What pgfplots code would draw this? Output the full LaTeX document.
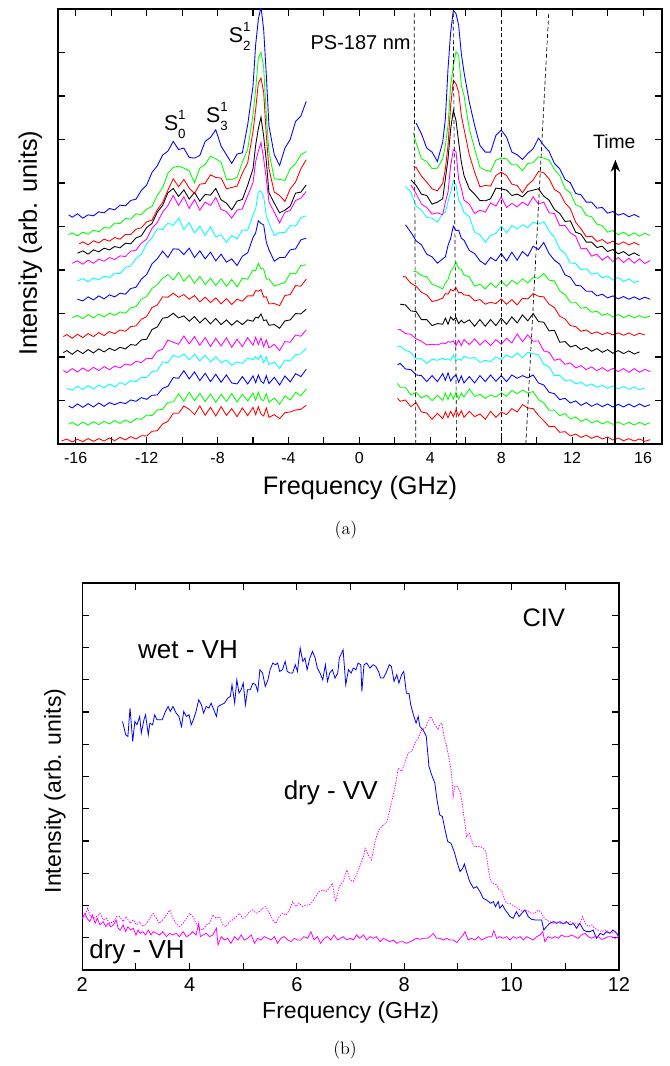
\documentclass[border=0pt]{standalone}
\usepackage{pgfplots}
\pgfplotsset{compat=1.18}
\usepackage{fontspec}
\newfontfamily\arial{Liberation Sans}
\usetikzlibrary{arrows.meta}
\definecolor{cyn}{rgb}{0,1,1}
\definecolor{mag}{rgb}{1,0,1}
\definecolor{grn}{rgb}{0,1,0}

\pgfplotsset{
  tr/.style={line width=0.65pt},
  panel/.style={
    scale only axis, anchor=north west,
    tick align=inside, major tick length=5pt, minor tick length=5pt,
    tick style={line width=0.8pt, black},
    axis line style={line width=0.9pt},
    yticklabels={},
  },
}
\newcommand{\slab}[1]{S\rlap{\raisebox{0.52em}{\fontsize{10}{10}\selectfont 1}}\raisebox{-0.38em}{\fontsize{10}{10}\selectfont #1}}

\begin{document}
\begin{tikzpicture}
\path[use as bounding box] (0,0) rectangle (502.5pt,-799.5pt);

% ---------------- panel (a) ----------------
\begin{axis}[panel,
  at={(43.5pt,-6.75pt)}, width=453pt, height=326.25pt,
  xmin=-17, xmax=17.07, ymin=0, ymax=1304,
  xtick={-16,-12,...,16}, xticklabels={-16,-12,-8,-4,0,4,8,12,16},
  minor x tick num=1, ytick distance=130.4,
  tick label style={font=\arial\fontsize{12}{14}\selectfont},
  xticklabel style={yshift=-3pt},
  label style={font=\arial\fontsize{19}{22}\selectfont},
  xlabel={Frequency (GHz)}, ylabel={Intensity (arb. units)},
  xlabel style={at={(axis description cs:0.5,-0.101)}, anchor=center},
  ylabel style={at={(axis description cs:-0.046,0.462)}, anchor=center},
]
% T1 red
\addplot[red,tr] coordinates {(-16.8,9)(-16.5,15)(-16.2,6)(-15.9,14)(-15.6,7)(-15.3,16)(-15.0,8)(-14.7,16)(-14.4,9)(-14.1,18)(-13.8,10)(-13.5,20)(-13.2,12)(-12.9,22)(-12.6,15)(-12.3,25)(-12.0,24)(-11.7,38)(-11.4,40)(-11.1,60)(-10.8,68)(-10.5,92)(-10.2,92)(-9.9,114)(-9.6,104)(-9.3,88)(-9.0,114)(-8.7,86)(-8.4,110)(-8.1,84)(-7.8,112)(-7.5,86)(-7.2,106)(-6.9,82)(-6.6,108)(-6.3,85)(-6.0,110)(-5.85,88)(-5.7,112)(-5.55,90)(-5.4,84)(-5.25,108)(-5.1,80)(-4.8,88)(-4.5,76)(-4.2,94)(-3.9,96)(-3.6,102)(-3.3,104)(-3.0,116)};
\addplot[red,tr] coordinates {(2.15,137)(2.3,128)(2.6,132)(2.9,112)(3.2,124)(3.5,96)(3.8,93)(4.1,74)(4.4,92)(4.7,76)(4.85,96)(5.0,79)(5.15,98)(5.3,82)(5.45,102)(5.6,84)(5.75,100)(5.9,80)(6.2,98)(6.5,82)(6.8,90)(7.1,74)(7.4,98)(7.7,80)(8.0,96)(8.3,88)(8.6,106)(8.9,96)(9.2,118)(9.5,108)(9.8,106)(10.1,86)(10.4,70)(10.7,52)(11.0,53)(11.3,35)(11.6,37)(11.9,24)(12.2,30)(12.5,20)(12.8,26)(13.1,17)(13.4,24)(13.7,15)(14.0,21)(14.3,12)(14.6,18)(14.9,10)(15.2,16)(15.5,9)(15.8,15)(16.1,8)(16.4,13)};
% T2 green
\addplot[grn,tr] coordinates {(-16.4,59)(-16.2,65)(-15.9,55)(-15.6,66)(-15.3,57)(-15.0,67)(-14.7,58)(-14.4,68)(-14.1,60)(-13.8,70)(-13.5,62)(-13.2,72)(-12.9,64)(-12.6,76)(-12.3,74)(-12.0,87)(-11.7,85)(-11.4,102)(-11.1,104)(-10.8,125)(-10.5,126)(-10.2,150)(-9.9,128)(-9.6,155)(-9.3,130)(-9.0,152)(-8.7,127)(-8.4,150)(-8.1,125)(-7.8,149)(-7.5,128)(-7.2,151)(-6.9,126)(-6.6,149)(-6.3,129)(-6.0,153)(-5.85,131)(-5.7,155)(-5.55,134)(-5.4,130)(-5.25,151)(-5.1,125)(-4.8,138)(-4.5,119)(-4.2,144)(-3.9,132)(-3.6,155)(-3.3,145)(-3.0,165)};
\addplot[grn,tr] coordinates {(2.15,182)(2.3,170)(2.6,170)(2.9,147)(3.2,155)(3.5,138)(3.8,146)(4.1,130)(4.4,146)(4.7,131)(4.85,152)(5.0,133)(5.15,153)(5.3,135)(5.45,155)(5.6,134)(5.75,153)(5.9,141)(6.2,165)(6.5,143)(6.8,149)(7.1,137)(7.4,147)(7.7,141)(8.0,153)(8.3,143)(8.6,161)(8.9,151)(9.2,162)(9.5,153)(9.8,157)(10.1,133)(10.4,123)(10.7,101)(11.0,101)(11.3,85)(11.6,91)(11.9,75)(12.2,81)(12.5,68)(12.8,75)(13.1,63)(13.4,70)(13.7,60)(14.0,67)(14.3,59)(14.6,66)(14.9,58)(15.2,65)(15.5,57)(15.8,65)(16.1,58)(16.4,64)};
% T3 blue
\addplot[blue,tr] coordinates {(-16.4,114)(-16.2,108)(-15.9,120)(-15.6,110)(-15.3,121)(-15.0,111)(-14.7,123)(-14.4,113)(-14.1,124)(-13.8,118)(-13.5,125)(-13.2,121)(-12.9,132)(-12.6,128)(-12.3,139)(-12.0,134)(-11.7,146)(-11.4,147)(-11.1,167)(-10.8,173)(-10.5,199)(-10.2,197)(-9.9,220)(-9.6,195)(-9.3,216)(-9.0,190)(-8.7,212)(-8.4,187)(-8.1,209)(-7.8,185)(-7.5,207)(-7.2,183)(-6.9,180)(-6.6,202)(-6.3,180)(-6.0,204)(-5.85,184)(-5.7,207)(-5.55,188)(-5.4,182)(-5.25,205)(-5.1,181)(-4.8,200)(-4.5,177)(-4.2,204)(-3.9,186)(-3.6,211)(-3.3,202)(-3.0,224)};
\addplot[blue,tr] coordinates {(2.15,237)(2.3,242)(2.6,225)(2.9,223)(3.2,207)(3.5,205)(3.8,187)(4.1,205)(4.4,187)(4.7,211)(4.85,191)(5.0,213)(5.15,189)(5.3,201)(5.45,207)(5.6,185)(5.75,204)(5.9,183)(6.2,202)(6.5,183)(6.8,205)(7.1,187)(7.4,207)(7.7,188)(8.0,205)(8.3,187)(8.6,207)(8.9,197)(9.2,205)(9.5,198)(9.8,207)(10.1,183)(10.4,177)(10.7,155)(11.0,151)(11.3,133)(11.6,137)(11.9,123)(12.2,129)(12.5,116)(12.8,124)(13.1,113)(13.4,121)(13.7,112)(14.0,120)(14.3,111)(14.6,119)(14.9,111)(15.2,120)(15.5,111)(15.8,120)(16.1,112)(16.4,118)};
% T4 cyan
\addplot[cyn,tr] coordinates {(-16.5,167)(-16.2,161)(-15.9,173)(-15.6,163)(-15.3,175)(-15.0,165)(-14.7,177)(-14.4,168)(-14.1,180)(-13.8,171)(-13.5,184)(-13.2,178)(-12.9,190)(-12.6,187)(-12.3,200)(-12.0,199)(-11.7,217)(-11.4,220)(-11.1,246)(-10.8,244)(-10.5,266)(-10.2,260)(-9.9,270)(-9.6,252)(-9.3,268)(-9.0,249)(-8.7,266)(-8.4,246)(-8.1,262)(-7.8,244)(-7.5,252)(-7.2,236)(-6.9,246)(-6.6,242)(-6.3,258)(-6.0,252)(-5.85,262)(-5.7,254)(-5.55,266)(-5.4,244)(-5.25,262)(-5.1,238)(-4.8,246)(-4.5,226)(-4.2,252)(-3.9,249)(-3.6,268)(-3.3,270)(-3.0,287)};
\addplot[cyn,tr] coordinates {(2.15,292)(2.3,293)(2.6,281)(2.9,275)(3.2,255)(3.5,256)(3.8,242)(4.1,254)(4.4,251)(4.7,257)(4.85,253)(5.0,255)(5.15,251)(5.3,267)(5.45,250)(5.6,255)(5.75,251)(5.9,263)(6.2,257)(6.5,259)(6.8,245)(7.1,251)(7.4,247)(7.7,261)(8.0,253)(8.3,267)(8.6,259)(8.9,273)(9.2,259)(9.5,275)(9.8,271)(10.1,267)(10.4,239)(10.7,231)(11.0,205)(11.3,206)(11.6,190)(11.9,192)(12.2,180)(12.5,185)(12.8,174)(13.1,180)(13.4,170)(13.7,176)(14.0,167)(14.3,174)(14.6,165)(14.9,172)(15.2,164)(15.5,171)(15.8,163)(16.1,168)};
% T5 magenta
\addplot[mag,tr] coordinates {(-16.7,220)(-16.5,214)(-16.2,226)(-15.9,216)(-15.6,228)(-15.3,218)(-15.0,230)(-14.7,220)(-14.4,232)(-14.1,223)(-13.8,234)(-13.5,228)(-13.2,240)(-12.9,236)(-12.6,248)(-12.3,244)(-12.0,257)(-11.7,256)(-11.4,278)(-11.1,284)(-10.8,312)(-10.5,305)(-10.2,299)(-9.9,324)(-9.6,300)(-9.3,322)(-9.0,296)(-8.7,319)(-8.4,292)(-8.1,317)(-7.8,294)(-7.5,318)(-7.2,290)(-6.9,314)(-6.6,292)(-6.3,319)(-6.0,296)(-5.85,320)(-5.7,298)(-5.55,318)(-5.4,292)(-5.25,312)(-5.1,288)(-4.8,299)(-4.5,280)(-4.2,307)(-3.9,305)(-3.6,327)(-3.3,323)(-3.0,342)};
\addplot[mag,tr] coordinates {(2.15,342)(2.3,343)(2.6,331)(2.9,329)(3.2,315)(3.5,308)(3.8,297)(4.1,299)(4.4,297)(4.7,303)(4.85,301)(5.0,307)(5.15,305)(5.3,309)(5.45,295)(5.6,311)(5.75,295)(5.9,313)(6.2,298)(6.5,315)(6.8,297)(7.1,311)(7.4,295)(7.7,313)(8.0,299)(8.3,317)(8.6,303)(8.9,330)(9.2,307)(9.5,327)(9.8,308)(10.1,309)(10.4,279)(10.7,275)(11.0,251)(11.3,255)(11.6,239)(11.9,243)(12.2,228)(12.5,235)(12.8,223)(13.1,231)(13.4,220)(13.7,229)(14.0,218)(14.3,227)(14.6,217)(14.9,226)(15.2,215)(15.5,226)(15.8,215)(16.1,224)(16.4,217)};
% T6 black
\addplot[black,tr] coordinates {(-16.7,274)(-16.5,280)(-16.2,269)(-15.9,281)(-15.6,271)(-15.3,283)(-15.0,273)(-14.7,285)(-14.4,276)(-14.1,287)(-13.8,280)(-13.5,290)(-13.2,285)(-12.9,298)(-12.6,296)(-12.3,312)(-12.0,314)(-11.7,343)(-11.4,351)(-11.1,377)(-10.8,380)(-10.5,392)(-10.2,378)(-9.9,384)(-9.6,368)(-9.3,382)(-9.0,363)(-8.7,378)(-8.4,360)(-8.1,376)(-7.8,358)(-7.5,372)(-7.2,356)(-6.9,370)(-6.6,358)(-6.3,372)(-6.0,368)(-5.85,380)(-5.7,378)(-5.55,390)(-5.4,370)(-5.25,372)(-5.1,356)(-4.8,358)(-4.5,347)(-4.2,369)(-3.9,372)(-3.6,391)(-3.3,390)(-3.0,404)};
\addplot[black,tr] coordinates {(2.3,419)(2.6,417)(2.9,399)(3.2,397)(3.5,373)(3.8,373)(4.1,355)(4.4,361)(4.7,359)(4.85,377)(5.0,359)(5.15,381)(5.3,371)(5.45,379)(5.6,361)(5.75,371)(5.9,363)(6.2,372)(6.5,353)(6.8,373)(7.1,353)(7.4,373)(7.7,355)(8.0,377)(8.3,359)(8.6,381)(8.9,363)(9.2,387)(9.5,369)(9.8,391)(10.1,367)(10.4,365)(10.7,339)(11.0,341)(11.3,305)(11.6,307)(11.9,291)(12.2,296)(12.5,283)(12.8,290)(13.1,278)(13.4,286)(13.7,275)(14.0,283)(14.3,272)(14.6,280)(14.9,271)(15.2,279)(15.5,270)(15.8,276)};
% T7 red
\addplot[red,tr] coordinates {(-16.7,322)(-16.5,328)(-16.2,317)(-15.9,329)(-15.6,319)(-15.3,331)(-15.0,322)(-14.7,334)(-14.4,325)(-14.1,337)(-13.8,331)(-13.5,342)(-13.2,338)(-12.9,352)(-12.6,354)(-12.3,374)(-12.0,382)(-11.7,409)(-11.4,417)(-11.1,441)(-10.8,440)(-10.5,452)(-10.2,440)(-9.9,448)(-9.6,434)(-9.3,445)(-9.0,426)(-8.7,440)(-8.4,424)(-8.1,438)(-7.8,420)(-7.5,436)(-7.2,418)(-6.9,434)(-6.6,428)(-6.3,444)(-6.0,444)(-5.85,460)(-5.7,458)(-5.55,463)(-5.4,441)(-5.25,441)(-5.1,420)(-4.8,421)(-4.5,415)(-4.2,445)(-3.9,448)(-3.6,475)(-3.3,473)(-3.0,494)};
\addplot[red,tr] coordinates {(2.45,502)(2.6,501)(2.9,482)(3.2,473)(3.5,455)(3.8,447)(4.1,427)(4.4,431)(4.7,437)(4.85,451)(5.0,449)(5.15,463)(5.3,459)(5.45,469)(5.6,453)(5.75,455)(5.9,447)(6.2,445)(6.5,429)(6.8,433)(7.1,419)(7.4,425)(7.7,421)(8.0,435)(8.3,419)(8.6,433)(8.9,417)(9.2,437)(9.5,435)(9.8,451)(10.1,443)(10.4,441)(10.7,419)(11.0,409)(11.3,383)(11.6,375)(11.9,355)(12.2,352)(12.5,338)(12.8,342)(13.1,331)(13.4,336)(13.7,328)(14.0,334)(14.3,327)(14.6,333)(14.9,326)(15.2,333)(15.5,325)(15.8,332)(16.1,327)};
% T8 green
\addplot[grn,tr] coordinates {(-16.2,379)(-15.9,385)(-15.6,376)(-15.3,388)(-15.0,378)(-14.7,390)(-14.4,381)(-14.1,392)(-13.8,386)(-13.5,396)(-13.2,392)(-12.9,408)(-12.6,412)(-12.3,434)(-12.0,442)(-11.7,466)(-11.4,478)(-11.1,497)(-10.8,508)(-10.5,492)(-10.2,514)(-9.9,488)(-9.6,506)(-9.3,482)(-9.0,502)(-8.7,478)(-8.4,497)(-8.1,475)(-7.8,495)(-7.5,473)(-7.2,493)(-6.9,471)(-6.6,497)(-6.3,494)(-6.0,522)(-5.85,519)(-5.7,542)(-5.55,526)(-5.4,525)(-5.25,494)(-5.1,495)(-4.8,473)(-4.5,479)(-4.2,484)(-3.9,512)(-3.6,510)(-3.3,535)(-3.0,537)};
\addplot[grn,tr] coordinates {(3.05,517)(3.2,517)(3.5,505)(3.8,501)(4.1,479)(4.4,473)(4.7,465)(4.85,483)(5.0,493)(5.15,517)(5.3,529)(5.45,545)(5.6,527)(5.75,523)(5.9,507)(6.2,501)(6.5,473)(6.8,479)(7.1,465)(7.4,483)(7.7,469)(8.0,489)(8.3,473)(8.6,491)(8.9,479)(9.2,495)(9.5,483)(9.8,499)(10.1,497)(10.4,511)(10.7,491)(11.0,489)(11.3,459)(11.6,447)(11.9,425)(12.2,425)(12.5,407)(12.8,410)(13.1,395)(13.4,398)(13.7,386)(14.0,391)(14.3,381)(14.6,388)(14.9,379)(15.2,386)(15.5,378)(15.8,385)(16.1,378)(16.4,384)};
% T9 blue
\addplot[blue,tr] coordinates {(-15.9,434)(-15.6,429)(-15.3,441)(-15.0,432)(-14.7,444)(-14.4,435)(-14.1,447)(-13.8,441)(-13.5,452)(-13.2,449)(-12.9,466)(-12.6,470)(-12.3,494)(-12.0,508)(-11.7,540)(-11.4,555)(-11.1,578)(-10.8,559)(-10.5,585)(-10.2,584)(-9.9,568)(-9.6,587)(-9.3,559)(-9.0,579)(-8.7,555)(-8.4,575)(-8.1,549)(-7.8,569)(-7.5,545)(-7.2,555)(-6.9,535)(-6.6,563)(-6.3,573)(-6.0,619)(-5.85,633)(-5.7,669)(-5.55,661)(-5.4,657)(-5.25,605)(-5.1,582)(-4.8,548)(-4.5,559)(-4.2,559)(-3.9,582)(-3.6,585)(-3.3,612)(-3.0,617)};
\addplot[blue,tr] coordinates {(2.6,657)(2.9,635)(3.2,609)(3.5,597)(3.8,569)(4.1,561)(4.4,542)(4.7,555)(4.85,561)(5.0,595)(5.15,617)(5.3,653)(5.45,640)(5.6,641)(5.75,617)(5.9,611)(6.2,580)(6.5,571)(6.8,549)(7.1,538)(7.4,559)(7.7,549)(8.0,571)(8.3,549)(8.6,575)(8.9,551)(9.2,577)(9.5,563)(9.8,593)(10.1,583)(10.4,604)(10.7,571)(11.0,551)(11.3,539)(11.6,507)(11.9,500)(12.2,476)(12.5,474)(12.8,458)(13.1,458)(13.4,444)(13.7,449)(14.0,438)(14.3,444)(14.6,435)(14.9,442)(15.2,434)(15.5,441)(15.8,433)(16.1,440)(16.4,434)};
% T10 cyan
\addplot[cyn,tr] coordinates {(-15.9,489)(-15.6,496)(-15.3,486)(-15.0,498)(-14.7,492)(-14.4,503)(-14.1,499)(-13.8,512)(-13.5,511)(-13.2,529)(-12.9,534)(-12.6,556)(-12.3,568)(-12.0,600)(-11.7,618)(-11.4,645)(-11.1,643)(-10.8,663)(-10.5,655)(-10.2,677)(-9.9,643)(-9.6,663)(-9.3,633)(-9.0,653)(-8.7,625)(-8.4,651)(-8.1,621)(-7.8,627)(-7.5,605)(-7.2,625)(-6.9,615)(-6.6,641)(-6.3,641)(-6.0,687)(-5.85,705)(-5.7,755)(-5.55,758)(-5.4,742)(-5.25,683)(-5.1,662)(-4.8,625)(-4.5,635)(-4.2,633)(-3.9,655)(-3.6,653)(-3.3,679)(-3.0,684)};
\addplot[cyn,tr] coordinates {(2.6,772)(2.9,755)(3.2,713)(3.5,701)(3.8,679)(4.1,677)(4.4,665)(4.7,691)(4.85,695)(5.0,727)(5.15,755)(5.3,790)(5.45,777)(5.6,731)(5.75,717)(5.9,695)(6.2,681)(6.5,635)(6.8,627)(7.1,605)(7.4,625)(7.7,631)(8.0,653)(8.3,633)(8.6,655)(8.9,645)(9.2,657)(9.5,649)(9.8,665)(10.1,659)(10.4,667)(10.7,639)(11.0,619)(11.3,585)(11.6,571)(11.9,543)(12.2,541)(12.5,523)(12.8,525)(13.1,509)(13.4,513)(13.7,498)(14.0,504)(14.3,491)(14.6,499)(14.9,487)(15.2,495)(15.5,484)(15.8,489)};
% T11 magenta
\addplot[mag,tr] coordinates {(-16.2,542)(-15.9,549)(-15.6,539)(-15.3,551)(-15.0,542)(-14.7,554)(-14.4,548)(-14.1,559)(-13.8,553)(-13.5,564)(-13.2,562)(-12.9,578)(-12.6,581)(-12.3,602)(-12.0,614)(-11.7,646)(-11.4,664)(-11.1,695)(-10.8,715)(-10.5,745)(-10.2,715)(-9.9,741)(-9.6,706)(-9.3,733)(-9.0,701)(-8.7,725)(-8.4,715)(-8.1,739)(-7.8,703)(-7.5,697)(-7.2,677)(-6.9,701)(-6.6,705)(-6.3,745)(-6.0,783)(-5.85,847)(-5.7,878)(-5.55,904)(-5.4,855)(-5.25,795)(-5.1,725)(-4.8,695)(-4.5,663)(-4.2,695)(-3.9,700)(-3.6,730)(-3.3,737)(-3.0,757)};
\addplot[mag,tr] coordinates {(2.9,777)(3.2,751)(3.5,719)(3.8,709)(4.1,689)(4.4,693)(4.7,687)(4.85,725)(5.0,755)(5.15,835)(5.3,882)(5.45,877)(5.6,793)(5.75,767)(5.9,731)(6.2,719)(6.5,691)(6.8,701)(7.1,695)(7.4,723)(7.7,713)(8.0,741)(8.3,709)(8.6,721)(8.9,711)(9.2,725)(9.5,715)(9.8,741)(10.1,719)(10.4,725)(10.7,693)(11.0,691)(11.3,655)(11.6,655)(11.9,633)(12.2,623)(12.5,585)(12.8,587)(13.1,563)(13.4,569)(13.7,551)(14.0,563)(14.3,547)(14.6,559)(14.9,544)(15.2,557)(15.5,542)(15.8,555)(16.1,541)(16.4,550)};
% T12 black
\addplot[black,tr] coordinates {(-15.9,572)(-15.6,579)(-15.3,569)(-15.0,582)(-14.7,576)(-14.4,587)(-14.1,582)(-13.8,592)(-13.5,588)(-13.2,602)(-12.9,600)(-12.6,618)(-12.3,624)(-12.0,649)(-11.7,661)(-11.4,695)(-11.1,715)(-10.8,753)(-10.5,766)(-10.2,742)(-9.9,762)(-9.6,734)(-9.3,754)(-9.0,728)(-8.7,748)(-8.4,746)(-8.1,766)(-7.8,732)(-7.5,722)(-7.2,702)(-6.9,728)(-6.6,733)(-6.3,776)(-6.0,825)(-5.85,896)(-5.7,945)(-5.55,980)(-5.4,923)(-5.25,848)(-5.1,753)(-4.8,722)(-4.5,693)(-4.2,701)(-3.9,713)(-3.6,752)(-3.3,755)(-3.0,777)};
\addplot[black,tr] coordinates {(2.9,792)(3.2,775)(3.5,749)(3.8,745)(4.1,719)(4.4,725)(4.7,735)(4.85,795)(5.0,855)(5.15,945)(5.3,1000)(5.45,970)(5.6,905)(5.75,845)(5.9,805)(6.2,765)(6.5,749)(6.8,730)(7.1,729)(7.4,735)(7.7,767)(8.0,765)(8.3,761)(8.6,745)(8.9,749)(9.2,741)(9.5,757)(9.8,761)(10.1,765)(10.4,743)(10.7,731)(11.0,703)(11.3,691)(11.6,667)(11.9,669)(12.2,635)(12.5,629)(12.8,605)(13.1,605)(13.4,589)(13.7,593)(14.0,577)(14.3,583)(14.6,570)(14.9,577)(15.2,565)(15.5,573)(15.8,564)};
% T13 red
\addplot[red,tr] coordinates {(-15.8,600)(-15.6,606)(-15.3,597)(-15.0,609)(-14.7,603)(-14.4,614)(-14.1,608)(-13.8,619)(-13.5,614)(-13.2,628)(-12.9,628)(-12.6,644)(-12.3,648)(-12.0,666)(-11.7,671)(-11.4,702)(-11.1,724)(-10.8,761)(-10.5,795)(-10.2,771)(-9.9,793)(-9.6,767)(-9.3,751)(-9.0,779)(-8.7,781)(-8.4,807)(-8.1,799)(-7.8,797)(-7.5,765)(-7.2,769)(-6.9,773)(-6.6,812)(-6.3,843)(-6.0,937)(-5.85,1003)(-5.7,1082)(-5.55,1097)(-5.4,1055)(-5.25,925)(-5.1,825)(-4.8,755)(-4.5,745)(-4.2,727)(-3.9,765)(-3.6,785)(-3.3,825)(-3.0,852)};
\addplot[red,tr] coordinates {(3.05,832)(3.2,829)(3.5,803)(3.8,785)(4.1,765)(4.4,759)(4.7,781)(4.85,825)(5.0,895)(5.15,1015)(5.3,1090)(5.45,1080)(5.6,1055)(5.75,985)(5.9,945)(6.2,867)(6.5,815)(6.8,771)(7.1,775)(7.4,773)(7.7,805)(8.0,815)(8.3,805)(8.6,779)(8.9,775)(9.2,753)(9.5,777)(9.8,791)(10.1,817)(10.4,813)(10.7,795)(11.0,763)(11.3,753)(11.6,723)(11.9,705)(12.2,665)(12.5,645)(12.8,621)(13.1,623)(13.4,607)(13.7,613)(14.0,601)(14.3,608)(14.6,598)(14.9,606)(15.2,597)(15.5,604)(15.8,596)};
% T14 green
\addplot[grn,tr] coordinates {(-16.4,627)(-16.2,633)(-15.9,624)(-15.6,635)(-15.3,629)(-15.0,641)(-14.7,636)(-14.4,649)(-14.1,647)(-13.8,662)(-13.5,661)(-13.2,676)(-12.9,674)(-12.6,690)(-12.3,688)(-12.0,704)(-11.7,712)(-11.4,746)(-11.1,768)(-10.8,812)(-10.5,829)(-10.2,833)(-9.9,827)(-9.6,819)(-9.3,783)(-9.0,827)(-8.7,838)(-8.4,863)(-8.1,855)(-7.8,845)(-7.5,793)(-7.2,793)(-6.9,799)(-6.6,845)(-6.3,883)(-6.0,987)(-5.85,1063)(-5.7,1157)(-5.55,1174)(-5.4,1130)(-5.25,985)(-5.1,875)(-4.8,795)(-4.5,793)(-4.2,790)(-3.9,825)(-3.6,840)(-3.3,867)(-3.0,877)};
\addplot[grn,tr] coordinates {(3.05,932)(3.2,903)(3.5,855)(3.8,847)(4.1,825)(4.4,827)(4.7,855)(4.85,895)(5.0,955)(5.15,1075)(5.3,1135)(5.45,1176)(5.6,1165)(5.75,1075)(5.9,1045)(6.2,945)(6.5,885)(6.8,829)(7.1,821)(7.4,817)(7.7,851)(8.0,857)(8.3,855)(8.6,837)(8.9,837)(9.2,819)(9.5,841)(9.8,843)(10.1,861)(10.4,857)(10.7,851)(11.0,823)(11.3,805)(11.6,765)(11.9,753)(12.2,717)(12.5,711)(12.8,685)(13.1,681)(13.4,659)(13.7,655)(14.0,635)(14.3,640)(14.6,627)(14.9,635)(15.2,624)(15.5,633)(15.8,623)(16.1,632)(16.4,625)};
% T15 blue
\addplot[blue,tr] coordinates {(-16.4,687)(-16.2,680)(-15.9,690)(-15.6,677)(-15.3,687)(-15.0,684)(-14.7,696)(-14.4,693)(-14.1,706)(-13.8,702)(-13.5,716)(-13.2,714)(-12.9,730)(-12.6,734)(-12.3,760)(-12.0,776)(-11.7,814)(-11.4,834)(-11.1,866)(-10.8,878)(-10.5,907)(-10.2,883)(-9.9,887)(-9.6,859)(-9.3,857)(-9.0,865)(-8.7,907)(-8.4,919)(-8.1,942)(-7.8,893)(-7.5,867)(-7.2,841)(-6.9,869)(-6.6,873)(-6.3,957)(-6.0,1073)(-5.85,1197)(-5.7,1273)(-5.55,1310)(-5.4,1243)(-5.25,1107)(-5.1,953)(-4.8,867)(-4.5,835)(-4.2,887)(-3.9,913)(-3.6,967)(-3.3,983)(-3.0,1027)};
\addplot[blue,tr] coordinates {(3.2,962)(3.5,930)(3.8,887)(4.1,875)(4.4,847)(4.7,905)(4.85,975)(5.0,1125)(5.15,1235)(5.3,1300)(5.45,1290)(5.6,1255)(5.75,1170)(5.9,1115)(6.2,1025)(6.5,955)(6.8,895)(7.1,875)(7.4,875)(7.7,925)(8.0,941)(8.3,920)(8.6,875)(8.9,867)(9.2,853)(9.5,871)(9.8,885)(10.1,917)(10.4,895)(10.7,877)(11.0,841)(11.3,825)(11.6,793)(11.9,783)(12.2,751)(12.5,747)(12.8,725)(13.1,725)(13.4,707)(13.7,709)(14.0,692)(14.3,697)(14.6,686)(14.9,691)(15.2,681)(15.5,688)(15.8,680)};
% dashed guide lines
\addplot[black,densely dashed,line width=0.5pt] coordinates {(3.18,0)(3.09,1292)};
\addplot[black,densely dashed,line width=0.5pt] coordinates {(5.48,0)(5.29,1300)};
\addplot[black,densely dashed,line width=0.5pt] coordinates {(7.98,0)(7.98,1292)};
\addplot[black,densely dashed,line width=0.5pt] coordinates {(9.39,0)(10.68,1292)};
% annotations
\draw[line width=1.5pt,-{Stealth[length=9pt,width=7pt]}] (axis cs:14.44,4) -- (axis cs:14.44,852);
\node[font=\arial\fontsize{14.5}{17}\selectfont] at (axis cs:14.38,906) {Time};
\node[font=\arial\fontsize{15}{18}\selectfont] at (axis cs:0.07,1203) {PS-187 nm};
\node[font=\arial\fontsize{16}{18}\selectfont] at (axis cs:-10.41,957) {\slab{0}};
\node[font=\arial\fontsize{16}{18}\selectfont] at (axis cs:-8.04,981) {\slab{3}};
\node[font=\arial\fontsize{16}{18}\selectfont] at (axis cs:-6.75,1221) {\slab{2}};
\end{axis}
\node[font=\fontsize{13.5}{16}\selectfont] at (259.5pt,-397.5pt) {(a)};

% ---------------- panel (b) ----------------
\begin{axis}[panel,
  at={(61.7pt,-437.25pt)}, width=402.5pt, height=290.25pt,
  xmin=2, xmax=12, ymin=0, ymax=1160,
  xtick={2,4,...,12}, xticklabels={2,4,6,8,10,12},
  minor x tick num=1, ytick distance=96.67,
  tick label style={font=\arial\fontsize{15}{18}\selectfont},
  xticklabel style={yshift=-2pt},
  label style={font=\arial\fontsize{17.3}{20}\selectfont},
  xlabel={Frequency (GHz)}, ylabel={Intensity (arb. units)},
  xlabel style={at={(axis description cs:0.5,-0.111)}, anchor=center},
  ylabel style={at={(axis description cs:-0.051,0.4625)}, anchor=center},
]
% wet - VH
\addplot[blue,line width=0.6pt] coordinates {(2.75,745)(2.81,705)(2.85,700)(2.89,785)(2.94,685)(2.98,745)(3.02,735)(3.07,760)(3.10,710)(3.15,750)(3.18,765)(3.23,705)(3.26,740)(3.31,735)(3.35,765)(3.39,750)(3.44,750)(3.49,750)(3.55,775)(3.60,790)(3.64,775)(3.69,790)(3.75,770)(3.80,760)(3.85,730)(3.89,775)(3.94,760)(3.99,765)(4.03,735)(4.07,750)(4.12,775)(4.17,810)(4.22,795)(4.26,770)(4.31,790)(4.36,785)(4.40,800)(4.45,780)(4.50,760)(4.53,790)(4.59,795)(4.65,800)(4.71,815)(4.76,820)(4.79,855)(4.84,800)(4.88,870)(4.92,830)(4.96,840)(5.00,860)(5.04,795)(5.08,840)(5.13,840)(5.18,860)(5.23,855)(5.27,835)(5.31,900)(5.36,890)(5.41,850)(5.46,870)(5.50,900)(5.55,920)(5.60,915)(5.64,920)(5.68,895)(5.73,900)(5.78,925)(5.82,895)(5.87,890)(5.92,890)(5.97,915)(6.01,895)(6.06,965)(6.11,925)(6.15,935)(6.19,900)(6.24,935)(6.29,955)(6.34,935)(6.38,905)(6.43,890)(6.48,870)(6.53,915)(6.57,865)(6.61,890)(6.66,900)(6.71,875)(6.76,890)(6.79,935)(6.86,960)(6.91,855)(6.96,900)(7.01,890)(7.05,905)(7.10,900)(7.14,920)(7.19,915)(7.21,835)(7.25,915)(7.30,920)(7.36,905)(7.42,915)(7.47,910)(7.52,895)(7.56,875)(7.61,875)(7.66,890)(7.72,915)(7.76,910)(7.81,865)(7.86,885)(7.90,860)(7.95,885)(7.99,895)(8.04,830)(8.09,828)(8.12,795)(8.17,765)(8.22,740)(8.26,760)(8.29,730)(8.35,720)(8.41,700)(8.46,610)(8.51,585)(8.57,560)(8.61,510)(8.66,465)(8.71,460)(8.76,420)(8.81,385)(8.87,380)(8.93,355)(8.99,320)(9.04,295)(9.09,305)(9.12,318)(9.16,295)(9.22,265)(9.29,245)(9.35,250)(9.41,235)(9.47,215)(9.53,210)(9.57,205)(9.61,200)(9.66,205)(9.70,190)(9.75,205)(9.78,185)(9.83,195)(9.88,180)(9.93,170)(9.97,160)(10.03,155)(10.09,175)(10.14,160)(10.19,170)(10.25,180)(10.31,160)(10.37,152)(10.44,150)(10.52,150)(10.56,150)(10.60,120)(10.65,130)(10.71,140)(10.78,145)(10.84,140)(10.90,145)(10.96,138)(11.02,145)(11.09,135)(11.15,140)(11.21,125)(11.27,140)(11.34,120)(11.40,115)(11.46,115)(11.52,120)(11.58,95)(11.65,110)(11.71,105)(11.77,115)(11.83,110)(11.89,120)(11.96,110)(12.00,100)};
% dry - VV
\addplot[mag,line width=0.6pt,dash pattern=on 1pt off 1pt] coordinates {(2.00,155)(2.05,160)(2.10,185)(2.14,165)(2.20,155)(2.27,160)(2.33,170)(2.39,150)(2.45,155)(2.51,140)(2.58,145)(2.64,160)(2.70,160)(2.76,145)(2.82,160)(2.89,140)(2.95,150)(3.01,135)(3.07,145)(3.13,130)(3.20,140)(3.26,155)(3.32,170)(3.38,155)(3.44,140)(3.50,150)(3.57,165)(3.63,180)(3.69,155)(3.75,140)(3.81,130)(3.88,140)(3.94,155)(4.00,170)(4.06,160)(4.12,140)(4.19,125)(4.25,120)(4.31,135)(4.37,140)(4.43,165)(4.50,155)(4.56,160)(4.62,135)(4.68,130)(4.74,145)(4.80,150)(4.87,160)(4.93,170)(4.99,155)(5.05,160)(5.11,175)(5.18,180)(5.24,170)(5.30,175)(5.36,185)(5.42,190)(5.49,170)(5.55,150)(5.61,140)(5.67,160)(5.73,170)(5.80,165)(5.86,180)(5.92,205)(5.98,190)(6.04,200)(6.11,190)(6.17,195)(6.23,195)(6.29,205)(6.35,220)(6.41,235)(6.48,240)(6.54,235)(6.60,245)(6.66,260)(6.72,205)(6.79,250)(6.86,265)(6.93,300)(6.99,270)(7.05,265)(7.11,285)(7.17,310)(7.24,340)(7.27,365)(7.33,345)(7.39,330)(7.45,380)(7.50,410)(7.55,425)(7.61,435)(7.67,440)(7.70,460)(7.76,500)(7.83,550)(7.89,605)(7.95,595)(8.01,620)(8.07,650)(8.14,655)(8.20,680)(8.26,695)(8.32,720)(8.39,725)(8.45,745)(8.49,760)(8.54,745)(8.59,730)(8.63,720)(8.66,735)(8.70,740)(8.74,700)(8.79,670)(8.84,630)(8.88,590)(8.91,520)(8.94,550)(8.99,550)(9.04,535)(9.08,500)(9.12,450)(9.16,400)(9.21,410)(9.25,390)(9.30,370)(9.35,370)(9.41,370)(9.47,365)(9.52,355)(9.57,300)(9.61,265)(9.66,260)(9.72,255)(9.77,240)(9.81,240)(9.86,215)(9.91,200)(9.96,200)(10.01,195)(10.06,190)(10.11,185)(10.16,180)(10.20,175)(10.25,180)(10.31,175)(10.37,170)(10.43,170)(10.50,180)(10.56,170)(10.61,155)(10.65,150)(10.71,145)(10.78,140)(10.84,145)(10.90,140)(10.96,140)(11.02,140)(11.09,145)(11.15,140)(11.21,140)(11.27,135)(11.32,160)(11.37,140)(11.43,130)(11.49,135)(11.55,125)(11.61,120)(11.68,115)(11.74,120)(11.80,115)(11.86,110)(11.93,115)(11.99,100)};
% dry - VH
\addplot[mag,line width=0.6pt] coordinates {(2.00,155)(2.05,170)(2.09,155)(2.14,145)(2.19,165)(2.24,140)(2.28,155)(2.33,135)(2.39,145)(2.44,130)(2.48,140)(2.53,130)(2.58,135)(2.63,150)(2.67,125)(2.71,120)(2.76,135)(2.81,115)(2.85,130)(2.90,120)(2.95,125)(3.00,105)(3.04,120)(3.08,110)(3.13,115)(3.18,105)(3.23,120)(3.28,105)(3.32,115)(3.38,110)(3.44,105)(3.50,115)(3.57,100)(3.63,110)(3.69,105)(3.75,110)(3.81,100)(3.88,115)(3.94,100)(4.00,105)(4.06,115)(4.12,105)(4.17,140)(4.20,100)(4.25,105)(4.31,110)(4.37,100)(4.43,105)(4.50,125)(4.53,75)(4.59,100)(4.65,90)(4.71,95)(4.77,80)(4.84,100)(4.90,90)(4.96,105)(5.02,90)(5.08,95)(5.15,105)(5.21,80)(5.27,95)(5.33,90)(5.39,100)(5.46,95)(5.52,90)(5.58,100)(5.64,80)(5.70,95)(5.76,100)(5.83,90)(5.89,85)(5.95,95)(6.01,90)(6.07,90)(6.13,100)(6.20,95)(6.26,115)(6.32,90)(6.38,100)(6.44,80)(6.51,95)(6.57,100)(6.63,90)(6.69,105)(6.76,90)(6.86,100)(6.93,90)(6.99,95)(7.05,90)(7.11,105)(7.17,95)(7.24,105)(7.30,90)(7.36,100)(7.42,95)(7.48,100)(7.55,85)(7.61,95)(7.67,90)(7.73,85)(7.80,90)(7.86,80)(7.92,85)(7.98,85)(8.04,80)(8.11,85)(8.17,90)(8.23,95)(8.29,92)(8.35,95)(8.42,95)(8.48,100)(8.54,110)(8.60,95)(8.66,95)(8.73,90)(8.79,95)(8.85,90)(8.91,90)(8.98,82)(9.04,95)(9.10,105)(9.13,115)(9.19,90)(9.25,95)(9.32,90)(9.38,100)(9.44,90)(9.50,95)(9.57,100)(9.63,100)(9.67,118)(9.72,95)(9.78,100)(9.84,95)(9.91,100)(9.97,90)(10.03,100)(10.09,95)(10.16,100)(10.22,90)(10.28,100)(10.34,95)(10.40,90)(10.47,100)(10.53,105)(10.58,115)(10.62,85)(10.68,100)(10.75,95)(10.81,100)(10.87,95)(10.93,105)(10.99,100)(11.06,100)(11.12,105)(11.18,100)(11.24,95)(11.30,105)(11.37,110)(11.43,100)(11.49,95)(11.55,100)(11.61,100)(11.68,92)(11.74,95)(11.80,100)(11.86,100)(11.93,95)(11.99,100)};
\node[font=\arial\fontsize{19.5}{22}\selectfont] at (axis cs:3.97,960) {wet - VH};
\node[font=\arial\fontsize{19.5}{22}\selectfont] at (axis cs:6.63,531) {dry - VV};
\node[font=\arial\fontsize{19.5}{22}\selectfont] at (axis cs:3.02,54) {dry - VH};
\node[font=\arial\fontsize{19}{22}\selectfont] at (axis cs:10.60,1056) {CIV};
\end{axis}
\node[font=\fontsize{13.5}{16}\selectfont] at (258.75pt,-787.5pt) {(b)};
\end{tikzpicture}
\end{document}
